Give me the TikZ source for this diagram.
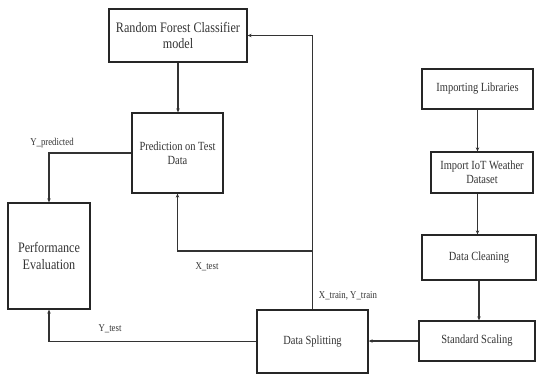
\documentclass[tikz,border=0pt]{standalone}
\usepackage{fontspec}
\setmainfont{Liberation Serif}[FakeStretch=0.84]
\usetikzlibrary{arrows.meta}

\begin{document}
\begin{tikzpicture}[x=1bp, y=-1bp, >={Stealth[length=4pt, width=3.5pt]},
    box/.style={draw=black!85, line width=1.3bp, align=center, inner sep=0pt, text=black!80, font=\fontsize{12.5}{14.5}\selectfont},
    big/.style={font=\fontsize{14.5}{17}\selectfont},
    lbl/.style={text=black!80, font=\fontsize{10.5}{12}\selectfont},
    link/.style={->, draw=black!80, line width=1.3bp}]
    \useasboundingbox (0,0) rectangle (537,375);

    % Kette rechts (von oben nach unten)
    \node[box, minimum width=111bp, minimum height=40bp] (libs) at (477.5,89) {Importing Libraries};
    \node[box, minimum width=102bp, minimum height=41bp] (data) at (482,172.5) {Import IoT Weather\\Dataset};
    \node[box, minimum width=114bp, minimum height=45bp] (clean) at (479,257.5) {Data Cleaning};
    \node[box, minimum width=116bp, minimum height=40bp] (scale) at (477,341) {Standard Scaling};

    % Modell und Auswertung
    \node[box, minimum width=111bp, minimum height=63bp] (split) at (312.5,341.5) {Data Splitting};
    \node[box, big, minimum width=138bp, minimum height=53bp] (rfc) at (178,35.5) {Random Forest Classifier\\model};
    \node[box, minimum width=91bp, minimum height=80bp] (pred) at (177.5,153) {Prediction on Test\\Data};
    \node[box, big, minimum width=82bp, minimum height=106bp] (perf) at (49,256) {Performance\\Evaluation};

    \coordinate (fork) at (312.5,251);

    % Pfeile
    \draw[link] (libs.south) -- (libs.south |- data.north);
    \draw[link] (data.south -| libs.south) -- (libs.south |- clean.north);
    \draw[link] (clean.south) -- (clean.south |- scale.north);
    \draw[link] (scale.west) -- (scale.west -| split.east);
    \draw[link] (split.north) |- (rfc.east);
    \draw[link] (fork) -| (pred.south);
    \draw[link] (rfc.south) -- (rfc.south |- pred.north);
    \draw[link] (pred.west) -| (perf.north);
    \draw[link] (split.west) -| (perf.south);

    % Beschriftungen
    \node[lbl] (ypred) at (52,143) {Y\_predicted};
    \node[lbl] (xtest) at (207,267) {X\_test};
    \node[lbl] (xytrain) at (348,296) {X\_train, Y\_train};
    \node[lbl] (ytest) at (110,329) {Y\_test};
\end{tikzpicture}
\end{document}
